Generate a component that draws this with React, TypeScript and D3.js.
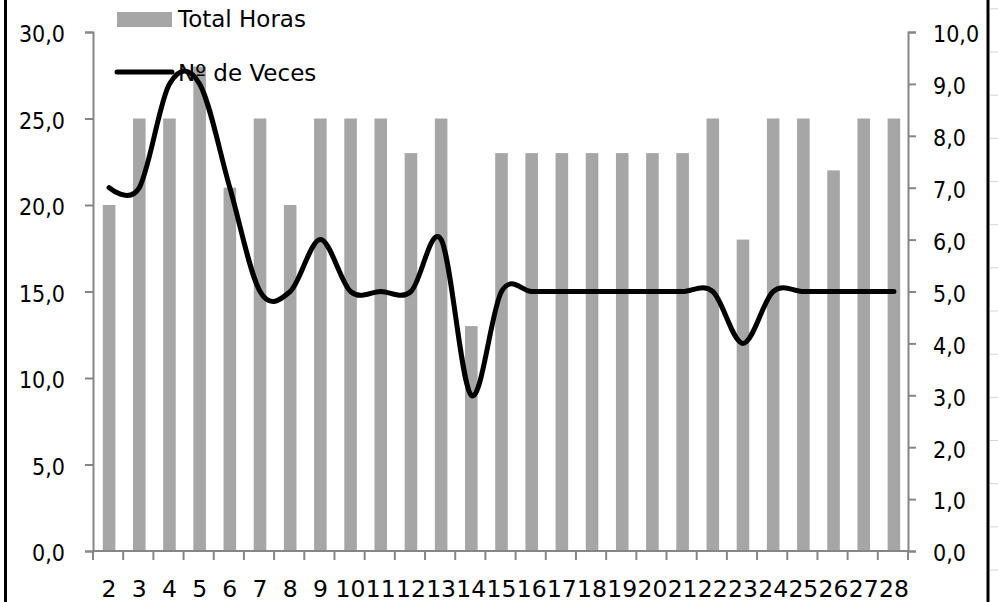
import React, { useRef, useEffect } from 'react';
import * as d3 from 'd3';

const days = ['2', '3', '4', '5', '6', '7', '8', '9', '10', '11', '12', '13', '14', '15',
  '16', '17', '18', '19', '20', '21', '22', '23', '24', '25', '26', '27', '28'];
const totalHoras = [20, 25, 25, 28, 21, 25, 20, 25, 25, 25, 23, 25, 13, 23,
  23, 23, 23, 23, 23, 23, 25, 18, 25, 25, 22, 25, 25];
const numVeces = [7, 7, 9, 9, 7, 5, 5, 6, 5, 5, 5, 6, 3, 5,
  5, 5, 5, 5, 5, 5, 5, 4, 5, 5, 5, 5, 5];
const leftTicks = [0, 5, 10, 15, 20, 25, 30];
const rightTicks = [0, 1, 2, 3, 4, 5, 6, 7, 8, 9, 10];

const App = () => {
  const svgRef = useRef(null);

  useEffect(() => {
    const svg = d3.select(svgRef.current);
    svg.selectAll('*').remove();

    const width = 998;
    const height = 602;
    const margin = { top: 32, right: 90, bottom: 51, left: 93 };
    const font = '"DejaVu Sans", Verdana, sans-serif';
    const tickFont = '"DejaVu Sans Condensed", "DejaVu Sans", sans-serif';
    const axisColor = '#868686';
    const fmt = (v) => d3.format('.1f')(v).replace('.', ',');

    svg.attr('width', width).attr('height', height);

    svg.append('rect').attr('width', width).attr('height', height).attr('fill', '#fff');

    // frame borders of the sheet
    svg.append('line').attr('x1', 5.5).attr('x2', 5.5).attr('y1', 0).attr('y2', height)
      .attr('stroke', '#000').attr('stroke-width', 3);
    svg.append('line').attr('x1', 988).attr('x2', 988).attr('y1', 0).attr('y2', height)
      .attr('stroke', '#000').attr('stroke-width', 3);
    svg.append('g').selectAll('line')
      .data(d3.range(-1, 13))
      .join('line')
      .attr('x1', 990).attr('x2', 998)
      .attr('y1', d => 52 + d * 43.17).attr('y2', d => 52 + d * 43.17)
      .attr('stroke', '#d4d4d4').attr('stroke-width', 1);

    const x = d3.scaleBand()
      .domain(days)
      .range([margin.left, width - margin.right])
      .padding(0);

    const yLeft = d3.scaleLinear()
      .domain([0, 30])
      .range([height - margin.bottom, margin.top]);

    const yRight = d3.scaleLinear()
      .domain([0, 10])
      .range([height - margin.bottom, margin.top]);

    const barW = x.bandwidth() / 2.4;

    svg.append('g')
      .attr('fill', '#a6a6a6')
      .selectAll('rect')
      .data(totalHoras)
      .join('rect')
      .attr('x', (d, i) => x(days[i]) + (x.bandwidth() - barW) / 2 + 1)
      .attr('y', d => yLeft(d))
      .attr('height', d => yLeft(0) - yLeft(d))
      .attr('width', barW);

    // left axis
    const gl = svg.append('g')
      .attr('transform', `translate(${margin.left}, 0)`)
      .call(d3.axisLeft(yLeft).tickValues(leftTicks).tickFormat(fmt).tickSizeOuter(0).tickSize(8).tickPadding(20));
    gl.select('.domain').attr('stroke', axisColor).attr('stroke-width', 2);
    gl.selectAll('.tick line').attr('stroke', axisColor).attr('stroke-width', 2);
    gl.selectAll('.tick text').attr('font-family', tickFont).attr('font-size', 23).attr('fill', '#000').attr('dy', '0.43em');

    // right axis
    const gr = svg.append('g')
      .attr('transform', `translate(${width - margin.right}, 0)`)
      .call(d3.axisRight(yRight).tickValues(rightTicks).tickFormat(fmt).tickSizeOuter(0).tickSize(8).tickPadding(17));
    gr.select('.domain').attr('stroke', axisColor).attr('stroke-width', 2);
    gr.selectAll('.tick line').attr('stroke', axisColor).attr('stroke-width', 2);
    gr.selectAll('.tick text').attr('font-family', tickFont).attr('font-size', 23).attr('fill', '#000').attr('dy', '0.43em');

    // x axis
    const base = height - margin.bottom;
    svg.append('line')
      .attr('x1', margin.left).attr('x2', width - margin.right)
      .attr('y1', base).attr('y2', base)
      .attr('stroke', axisColor).attr('stroke-width', 2);
    svg.append('g').selectAll('line')
      .data(d3.range(days.length + 1))
      .join('line')
      .attr('x1', d => margin.left + d * x.step())
      .attr('x2', d => margin.left + d * x.step())
      .attr('y1', base).attr('y2', base + 9)
      .attr('stroke', axisColor).attr('stroke-width', 2);
    svg.append('g').selectAll('text')
      .data(days)
      .join('text')
      .attr('x', d => x(d) + x.bandwidth() / 2 + 1)
      .attr('y', 597)
      .attr('text-anchor', 'middle')
      .attr('font-family', font)
      .attr('font-size', 23.5)
      .text(d => d);

    // line series
    const line = d3.line()
      .x((d, i) => x(days[i]) + x.bandwidth() / 2 + 1)
      .y(d => yRight(d))
      .curve(d3.curveCardinal.tension(0));

    svg.append('path')
      .datum(numVeces)
      .attr('fill', 'none')
      .attr('stroke', '#000')
      .attr('stroke-width', 5)
      .attr('stroke-linecap', 'round')
      .attr('d', line);

    // legend
    svg.append('rect')
      .attr('x', 117).attr('y', 12).attr('width', 55).attr('height', 15)
      .attr('fill', '#a6a6a6');
    svg.append('text')
      .attr('x', 178).attr('y', 27)
      .attr('font-family', font).attr('font-size', 23)
      .text('Total Horas');
    svg.append('line')
      .attr('x1', 117).attr('x2', 172).attr('y1', 72).attr('y2', 72)
      .attr('stroke', '#000').attr('stroke-width', 5).attr('stroke-linecap', 'round');
    svg.append('text')
      .attr('x', 178).attr('y', 81)
      .attr('font-family', font).attr('font-size', 23)
      .text('Nº de Veces');
  }, []);

  return <svg ref={svgRef} style={{ position: 'absolute', left: 0, top: 0 }}></svg>;
};

export default App;
